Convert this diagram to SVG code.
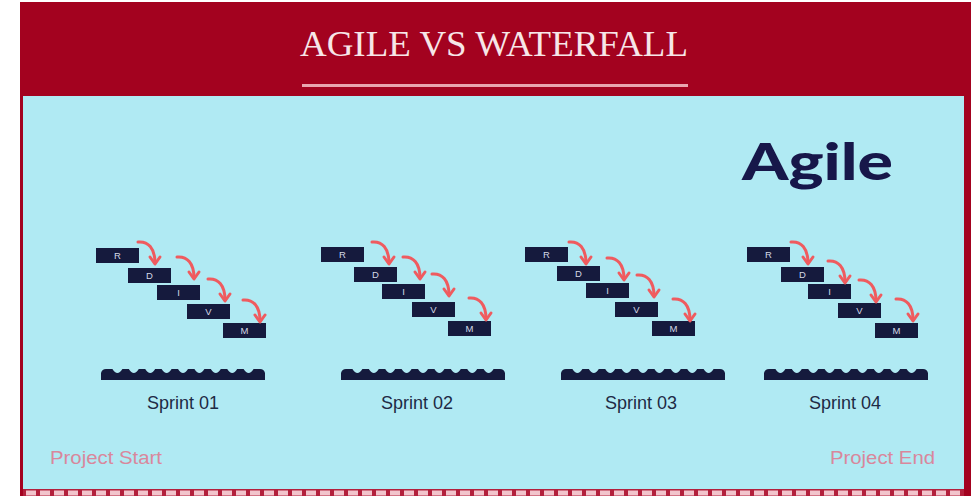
<svg xmlns="http://www.w3.org/2000/svg" width="971" height="496" viewBox="0 0 971 496">
<style>
.box{fill:#151a3d}
.bt{font-family:"Liberation Sans",Arial,sans-serif;font-size:9.5px;fill:#d4d8e6;text-anchor:middle}
.arr{fill:none;stroke:#ef5b5f;stroke-width:3;stroke-linecap:round;stroke-linejoin:round}
.sl{font-family:"Liberation Sans",Arial,sans-serif;font-size:18px;fill:#1e2a45;text-anchor:middle}
.pl{font-family:"Liberation Sans",Arial,sans-serif;font-size:18px;fill:#d9879c}
</style>
<defs>
<g id="arrow"><path class="arr" d="M0 0 C10 -1 17 6 17 21"/><path class="arr" d="M12 15 L17 22 L22 15"/></g>
<path id="wave" fill="#151a3d" d="M0 12 L0 5 Q1 1 5 1 L11.4 1 Q16.4 9 21.4 1 L27.8 1 Q32.8 9 37.8 1 L44.2 1 Q49.2 9 54.2 1 L60.6 1 Q65.6 9 70.6 1 L77 1 Q82 9 87 1 L93.4 1 Q98.4 9 103.4 1 L109.8 1 Q114.8 9 119.8 1 L126.2 1 Q131.2 9 136.2 1 L142.6 1 Q147.6 9 152.6 1 L159 1 Q163 1 164 5 L164 12 Z"/>
<pattern id="border" x="24" y="489" width="14" height="7" patternUnits="userSpaceOnUse">
<rect x="0" y="0" width="14" height="7" fill="#b3203c"/>
<rect x="2" y="1.5" width="10" height="5" fill="#f2c4cc"/>
</pattern>
</defs>
<rect x="0" y="0" width="971" height="496" fill="#ffffff"/>
<g id="frame">
<rect x="20" y="2" width="951" height="494" fill="#a3021f"/>
<rect x="23" y="96" width="941" height="393" fill="#b0eaf3"/>
<rect x="23" y="489" width="941" height="7" fill="url(#border)"/>
</g>
<g id="header">
<text x="494" y="56" font-family="'Liberation Serif','Times New Roman',serif" font-size="36" fill="#f7e6e8" text-anchor="middle" textLength="388" lengthAdjust="spacingAndGlyphs">AGILE VS WATERFALL</text>
<rect x="302" y="84" width="386" height="3" fill="#e9a6b0"/>
</g>
<g id="agile-title">
<text x="742" y="180" font-family="Lato,'Open Sans',sans-serif" font-weight="900" font-size="51" fill="#17174a" textLength="151" lengthAdjust="spacingAndGlyphs">Agile</text>
</g>
<g id="sprint1">
<g id="s1-R"><rect class="box" x="96" y="248" width="43" height="15"/><text class="bt" x="117.5" y="259">R</text></g>
<g id="s1-D"><rect class="box" x="128" y="268" width="43" height="15"/><text class="bt" x="149.5" y="279">D</text></g>
<g id="s1-I"><rect class="box" x="157" y="285" width="43" height="15"/><text class="bt" x="178.5" y="296">I</text></g>
<g id="s1-V"><rect class="box" x="187" y="304" width="43" height="15"/><text class="bt" x="208.5" y="315">V</text></g>
<g id="s1-M"><rect class="box" x="223" y="323" width="43" height="15"/><text class="bt" x="244.5" y="334">M</text></g>
<use href="#wave" x="101" y="368"/>
<text class="sl" x="183" y="409">Sprint 01</text>
</g>
<g id="sprint2">
<g id="s2-R"><rect class="box" x="321" y="247" width="43" height="15"/><text class="bt" x="342.5" y="258">R</text></g>
<g id="s2-D"><rect class="box" x="354" y="267" width="43" height="15"/><text class="bt" x="375.5" y="278">D</text></g>
<g id="s2-I"><rect class="box" x="382" y="284" width="43" height="15"/><text class="bt" x="403.5" y="295">I</text></g>
<g id="s2-V"><rect class="box" x="412" y="302" width="43" height="15"/><text class="bt" x="433.5" y="313">V</text></g>
<g id="s2-M"><rect class="box" x="448" y="321" width="43" height="15"/><text class="bt" x="469.5" y="332">M</text></g>
<use href="#wave" x="341" y="368"/>
<text class="sl" x="417" y="409">Sprint 02</text>
</g>
<g id="sprint3">
<g id="s3-R"><rect class="box" x="525" y="247" width="43" height="15"/><text class="bt" x="546.5" y="258">R</text></g>
<g id="s3-D"><rect class="box" x="557" y="266" width="43" height="15"/><text class="bt" x="578.5" y="277">D</text></g>
<g id="s3-I"><rect class="box" x="586" y="283" width="43" height="15"/><text class="bt" x="607.5" y="294">I</text></g>
<g id="s3-V"><rect class="box" x="615" y="302" width="43" height="15"/><text class="bt" x="636.5" y="313">V</text></g>
<g id="s3-M"><rect class="box" x="652" y="321" width="43" height="15"/><text class="bt" x="673.5" y="332">M</text></g>
<use href="#wave" x="561" y="368"/>
<text class="sl" x="641" y="409">Sprint 03</text>
</g>
<g id="sprint4">
<g id="s4-R"><rect class="box" x="747" y="247" width="43" height="15"/><text class="bt" x="768.5" y="258">R</text></g>
<g id="s4-D"><rect class="box" x="781" y="267" width="43" height="15"/><text class="bt" x="802.5" y="278">D</text></g>
<g id="s4-I"><rect class="box" x="808" y="284" width="43" height="15"/><text class="bt" x="829.5" y="295">I</text></g>
<g id="s4-V"><rect class="box" x="838" y="303" width="43" height="15"/><text class="bt" x="859.5" y="314">V</text></g>
<g id="s4-M"><rect class="box" x="875" y="323" width="43" height="15"/><text class="bt" x="896.5" y="334">M</text></g>
<use href="#wave" x="764" y="368"/>
<text class="sl" x="845" y="409">Sprint 04</text>
</g>
<g id="connectors">
<use href="#arrow" x="138" y="242"/>
<use href="#arrow" x="177" y="257"/>
<use href="#arrow" x="208" y="279"/>
<use href="#arrow" x="243" y="300"/>
<use href="#arrow" x="372" y="242"/>
<use href="#arrow" x="403" y="257"/>
<use href="#arrow" x="432" y="274"/>
<use href="#arrow" x="469" y="298"/>
<use href="#arrow" x="569" y="242"/>
<use href="#arrow" x="607" y="258"/>
<use href="#arrow" x="637" y="275"/>
<use href="#arrow" x="673" y="299"/>
<use href="#arrow" x="791" y="242"/>
<use href="#arrow" x="828" y="261"/>
<use href="#arrow" x="859" y="280"/>
<use href="#arrow" x="896" y="299"/>
</g>
<g id="project-start"><text class="pl" x="50" y="464" textLength="112" lengthAdjust="spacingAndGlyphs">Project Start</text></g>
<g id="project-end"><text class="pl" x="830" y="464" textLength="105" lengthAdjust="spacingAndGlyphs">Project End</text></g>
</svg>
